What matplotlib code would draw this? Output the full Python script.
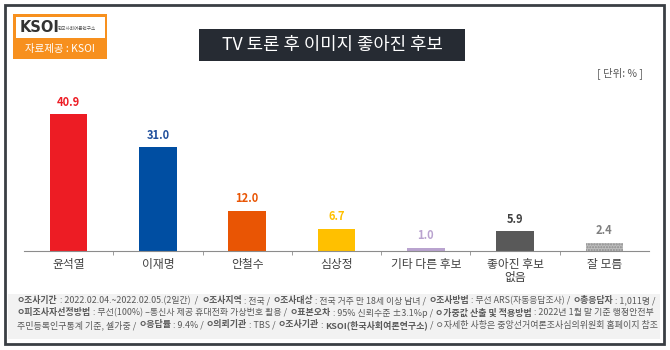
import matplotlib
matplotlib.use('Agg')
import matplotlib.pyplot as plt
from matplotlib.patches import Rectangle

plt.rcParams['font.family'] = ['Noto Sans CJK KR', 'DejaVu Sans']

# data
categories = ['윤석열', '이재명', '안철수', '심상정', '기타 다른 후보', '좋아진 후보\n없음', '잘 모름']
values = [40.9, 31.0, 12.0, 6.7, 1.0, 5.9, 2.4]
bar_colors = ['#ED1C24', '#004EA2', '#E95504', '#FFC000', '#B9A3CF', '#595959', '#BFBFBF']
label_colors = ['#ED1C24', '#1F4E9C', '#E95504', '#FFC000', '#B9A3CF', '#404040', '#7F7F7F']

title = 'TV 토론 후 이미지 좋아진 후보'
unit = '[ 단위: % ]'

footer = [
    [('ㅇ조사기간', True), (' : 2022.02.04.~2022.02.05.(2일간)  /  ', False),
     ('ㅇ조사지역', True), (' : 전국 / ', False),
     ('ㅇ조사대상', True), (' : 전국 거주 만 18세 이상 남녀 / ', False),
     ('ㅇ조사방법', True), (' : 무선 ARS(자동응답조사) / ', False),
     ('ㅇ총응답자', True), (' : 1,011명 /', False)],
    [('ㅇ피조사자선정방법', True), (' : 무선(100%) –통신사 제공 휴대전화 가상번호 활용 / ', False),
     ('ㅇ표본오차', True), (' : 95% 신뢰수준 ±3.1%p / ', False),
     ('ㅇ가중값 산출 및 적용방법', True), (' : 2022년 1월 말 기준 행정안전부', False)],
    [('주민등록인구통계 기준, 셀가중 / ', False),
     ('ㅇ응답률', True), (' : 9.4% / ', False),
     ('ㅇ의뢰기관', True), (' : TBS / ', False),
     ('ㅇ조사기관', True), (' : ', False), ('KSOI(한국사회여론연구소)', True),
     (' / ㅇ자세한 사항은 중앙선거여론조사심의위원회 홈페이지 참조', False)],
]
footer_right = [655, 649, 653]  # where each footer line ends (px)

W, H = 670, 350
fig = plt.figure(figsize=(W / 100, H / 100), dpi=100)

# background layer in pixel coords
bg = fig.add_axes([0, 0, 1, 1])
bg.set_xlim(0, W)
bg.set_ylim(H, 0)
bg.axis('off')

bg.add_patch(Rectangle((5, 5), 659, 339, fill=False, ec='#3A3F44', lw=2))
# footer box
bg.add_patch(Rectangle((8, 294), 652, 45, fc='#F2F2F2', ec='none'))
# title box
bg.add_patch(Rectangle((199, 29), 266, 32, fc='#262B33', ec='none'))
bg.text(332, 45, title, color='white', fontsize=12.8, ha='center', va='center')
# logo
bg.add_patch(Rectangle((13, 14), 94, 45, fc='#F7901E', ec='none'))
bg.add_patch(Rectangle((16, 17), 89, 21, fc='white', ec='none'))
bg.text(20, 28, 'KSOI', color='#333333', fontsize=10.5, fontweight='bold',
        ha='left', va='center', family='DejaVu Sans')
bg.text(58, 28, '한국사회여론연구소', color='#555555', fontsize=3.3, ha='left', va='center')
bg.text(60, 49, '자료제공 : KSOI', color='white', fontsize=7.5, ha='center', va='center')
# unit
bg.text(643, 73, unit, color='#595959', fontsize=7.5, ha='right', va='center')

# footer text with mixed weights, each line stretched to its end point
fig.canvas.draw()
r = fig.canvas.get_renderer()
for i, line in enumerate(footer):
    y = 301 + i * 12
    fs = 5.4
    for _ in range(2):
        x = 17
        texts = []
        for seg, bold in line:
            t = bg.text(x, y, seg, fontsize=fs, color='#595959',
                        fontweight='bold' if bold else 'normal', ha='left', va='center')
            x += t.get_window_extent(renderer=r).width
            texts.append(t)
        if _ == 0:
            for t in texts:
                t.remove()
            fs = fs * (footer_right[i] - 17) / (x - 17)

# chart
ax = fig.add_axes([24 / W, 1 - 251 / H, 625 / W, 150 / H])
ax.patch.set_alpha(0)
xs = list(range(len(values)))
bars = ax.bar(xs, values, width=0.42, color=bar_colors)
bars[-1].set_hatch('......')
bars[-1].set_edgecolor('#8C8C8C')
bars[-1].set_linewidth(0)
for x, v, c in zip(xs, values, label_colors):
    ax.annotate(f'{v:.1f}', (x, v), xytext=(0, 4), textcoords='offset points',
                ha='center', va='bottom', color=c, fontsize=8, fontweight='bold')

ax.set_xlim(-0.5, len(values) - 0.5)
ax.set_ylim(0, 44.8)
for s in ['top', 'left', 'right']:
    ax.spines[s].set_visible(False)
ax.spines['bottom'].set_color('#8C8C8C')
ax.set_yticks([])
ax.set_xticks(xs)
ax.set_xticklabels(categories, fontsize=8.5, color='#404040', linespacing=1.0)
ax.tick_params(axis='x', length=0, pad=5)
ax.set_xticks([x + 0.5 for x in xs[:-1]], minor=True)
ax.tick_params(axis='x', which='minor', length=3, color='#8C8C8C')

fig.savefig('out.png', dpi=100)
